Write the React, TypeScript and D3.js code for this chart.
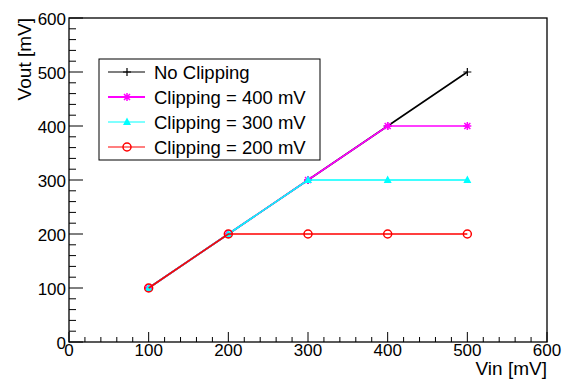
import React from "react";
import * as d3 from "d3";

const vin = [100, 200, 300, 400, 500];
const noClip = [100, 200, 300, 400, 500];
const clip400 = [100, 200, 300, 400, 400];
const clip300 = [100, 200, 300, 300, 300];
const clip200 = [100, 200, 200, 200, 200];
const seriesNames = ["No Clipping", "Clipping = 400 mV", "Clipping = 300 mV", "Clipping = 200 mV"];
const seriesColors = ["#000000", "#ff00ff", "#00ffff", "#ff0000"];
const seriesMarkers = ["plus", "star", "triangle", "circle"];
const majorTicks = [0, 100, 200, 300, 400, 500, 600];
const xTitle = "Vin [mV]";
const yTitle = "Vout [mV]";

const W = 565, H = 379;
const L = 69, R = 547, T = 18, B = 342;
const FONT = "'Liberation Sans', Arial, Helvetica, sans-serif";

function Marker({ type, x, y, color }: { type: string; x: number; y: number; color: string }) {
  if (type === "plus") {
    return <path d={`M${x - 4},${y}H${x + 4}M${x},${y - 4}V${y + 4}`} stroke={color} strokeWidth={1.2} fill="none" />;
  }
  if (type === "star") {
    const r = 4;
    return (
      <path
        d={`M${x - r},${y}H${x + r}M${x},${y - r}V${y + r}M${x - r * 0.75},${y - r * 0.75}L${x + r * 0.75},${y + r * 0.75}M${x - r * 0.75},${y + r * 0.75}L${x + r * 0.75},${y - r * 0.75}`}
        stroke={color}
        strokeWidth={1.5}
        fill="none"
      />
    );
  }
  if (type === "triangle") {
    return <path d={`M${x},${y - 4.5}L${x + 4},${y + 3}L${x - 4},${y + 3}Z`} fill={color} />;
  }
  return <circle cx={x} cy={y} r={4} fill="none" stroke={color} strokeWidth={1.5} />;
}

export default function App() {
  const x = d3.scaleLinear().domain([0, 600]).range([L, R]);
  const y = d3.scaleLinear().domain([0, 600]).range([B, T]);
  const series = [noClip, clip400, clip300, clip200];
  const line = d3.line<[number, number]>().x((d) => x(d[0])).y((d) => y(d[1]));
  const minor = d3.range(0, 601, 20).filter((v) => v % 100 !== 0);

  return (
    <svg width={W} height={H} style={{ position: "absolute", left: 0, top: 0, background: "#fff" }} fontFamily={FONT}>
      <rect x={0} y={0} width={W} height={H} fill="#fff" />
      {majorTicks.map((t) => (
        <g key={"mx" + t}>
          <line x1={x(t)} x2={x(t)} y1={B} y2={B - 10} stroke="#000" strokeWidth={1} />
          <line x1={L} x2={L + 14} y1={y(t)} y2={y(t)} stroke="#000" strokeWidth={1} />
        </g>
      ))}
      {minor.map((t) => (
        <g key={"mn" + t}>
          <line x1={x(t)} x2={x(t)} y1={B} y2={B - 5} stroke="#000" strokeWidth={1} />
          <line x1={L} x2={L + 7} y1={y(t)} y2={y(t)} stroke="#000" strokeWidth={1} />
        </g>
      ))}
      {series.map((s, i) => (
        <g key={"s" + i}>
          <path d={line(vin.map((v, j) => [v, s[j]]) as [number, number][]) || ""} fill="none" stroke={seriesColors[i]} strokeWidth={1.6} />
          {vin.map((v, j) => (
            <Marker key={j} type={seriesMarkers[i]} x={x(v)} y={y(s[j])} color={seriesColors[i]} />
          ))}
        </g>
      ))}
      <rect x={L} y={T} width={R - L} height={B - T} fill="none" stroke="#000" strokeWidth={1.3} />
      {majorTicks.map((t) => (
        <text key={"xl" + t} x={x(t)} y={355.5} fontSize={17} textAnchor="middle">{t}</text>
      ))}
      {majorTicks.map((t) => (
        <text key={"yl" + t} x={66} y={y(t) + 7} fontSize={17} textAnchor="end">{t}</text>
      ))}
      <text x={R} y={375} fontSize={19} textAnchor="end">{xTitle}</text>
      <text transform={`translate(31,${T}) rotate(-90)`} fontSize={19} textAnchor="end">{yTitle}</text>
      <rect x={99} y={59} width={221} height={101} fill="#fff" stroke="#000" strokeWidth={1} />
      {seriesNames.map((n, i) => {
        const cy = 72 + i * 25;
        return (
          <g key={"lg" + i}>
            <line x1={108} x2={145} y1={cy} y2={cy} stroke={seriesColors[i]} strokeWidth={i === 1 ? 2 : 1.2} />
            <Marker type={seriesMarkers[i]} x={127} y={cy} color={seriesColors[i]} />
            <text x={154} y={cy + 6.5} fontSize={18.5}>{n}</text>
          </g>
        );
      })}
    </svg>
  );
}
